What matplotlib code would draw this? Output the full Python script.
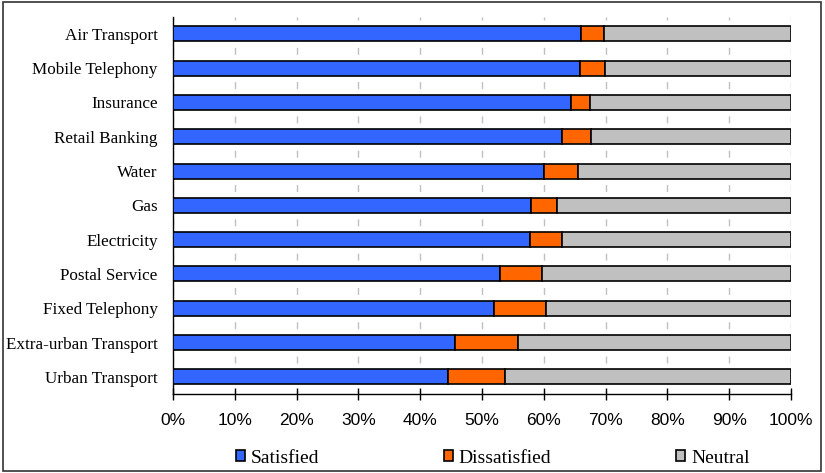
import numpy as np
import matplotlib.pyplot as plt
from matplotlib.patches import Rectangle

categories = ["Urban Transport", "Extra-urban Transport", "Fixed Telephony",
              "Postal Service", "Electricity", "Gas", "Water", "Retail Banking",
              "Insurance", "Mobile Telephony", "Air Transport"]
satisfied = [44.5, 45.6, 52.0, 52.9, 57.7, 57.9, 60.1, 63.0, 64.4, 65.9, 66.0]
dissatisfied = [9.3, 10.3, 8.4, 6.8, 5.2, 4.3, 5.5, 4.6, 3.1, 4.0, 3.7]
neutral = [100 - s - d for s, d in zip(satisfied, dissatisfied)]
xticks = list(range(0, 101, 10))

blue = '#3366FF'
orange = '#FF6600'
gray = '#C0C0C0'

fig = plt.figure(figsize=(8.25, 4.73), dpi=100)
ax = fig.add_axes([173 / 825, 1 - 394 / 473, 618 / 825, (394 - 16.7) / 473])

y = np.arange(len(categories))
h = 0.44
left = np.zeros(len(categories))
for vals, col, name in [(satisfied, blue, 'Satisfied'),
                        (dissatisfied, orange, 'Dissatisfied'),
                        (neutral, gray, 'Neutral')]:
    ax.barh(y, vals, height=h, left=left, color=col, edgecolor='black',
            linewidth=1.2, label=name, zorder=3)
    left += np.array(vals)

ax.set_xlim(0, 100)
ax.set_ylim(-0.5, len(categories) - 0.5)
ax.set_xticks(xticks)
ax.set_xticklabels([f"{t}%" for t in xticks], family='Liberation Sans', fontsize=12.5)
ax.set_yticks(y)
ax.set_yticklabels(categories, family='Liberation Serif', fontsize=12.3)
ax.tick_params(axis='y', length=0, pad=11)
ax.tick_params(axis='x', direction='inout', length=9, width=1, pad=9.5)

# dashed gridlines, one dash per gap between bars
ax.xaxis.grid(True, color=gray, linewidth=1, linestyle=(2.4, (5, 19.7)), zorder=0)
ax.set_axisbelow(True)

for s in ['top', 'right']:
    ax.spines[s].set_visible(False)
for s in ['left', 'bottom']:
    ax.spines[s].set_linewidth(1)

handles, labels = ax.get_legend_handles_labels()
fig.legend(handles, labels, loc='center left', bbox_to_anchor=(236 / 825, 1 - 458 / 473),
           ncol=3, frameon=False, borderpad=0, borderaxespad=0,
           handlelength=0.47, handleheight=0.47, handletextpad=0.3, columnspacing=6.4,
           prop={'family': 'Liberation Serif', 'size': 14})

# outer frame round the whole picture
fig.patches.append(Rectangle((3 / 825, 2 / 473), 818 / 825, 469 / 473,
                             transform=fig.transFigure, fill=False,
                             edgecolor='#333333', linewidth=1.2))

fig.savefig('out.png', dpi=100)
